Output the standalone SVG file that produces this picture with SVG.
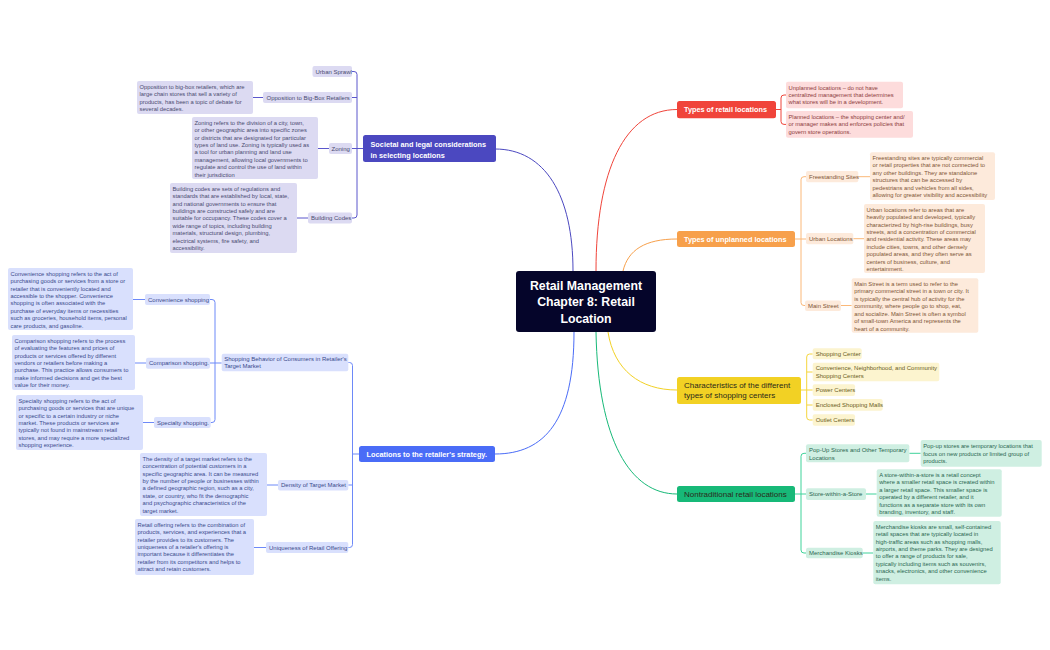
<svg xmlns="http://www.w3.org/2000/svg" width="1050" height="650" viewBox="0 0 1050 650">
<style>
text{font-family:"Liberation Sans",Arial,sans-serif}
.ct{font-size:12.3px;font-weight:bold;fill:#fff;text-anchor:middle}
.mw{font-size:7.3px;font-weight:bold;fill:#fff}
.md{font-size:8px;fill:#2a2a1a}
.s{font-size:6px}
.l{font-size:5.8px}
.c{fill:none;stroke-width:1}
.pu .b{fill:#dcdaf2}.pu text{fill:#4a4a70}
.bl .b{fill:#d9e0fd}.bl text{fill:#3a4a8c}
.re .b{fill:#fddcdc}.re text{fill:#8c3b3b}
.or .b{fill:#fdeadb}.or text{fill:#7d5535}
.ye .b{fill:#fcf4cf}.ye text{fill:#6b5d22}
.gr .b{fill:#cfefe2}.gr text{fill:#2a6650}
</style>
<rect width="1050" height="650" fill="#fff"/>
<g id="connectors">
<path class="c" stroke="#4b48c0" d="M495,149 C545,149 573,195 573,271"/>
<path class="c" stroke="#4a6cf7" d="M574,332 C574,420 545,454 495,454"/>
<path class="c" stroke="#f0443a" d="M596,271 C596,170 625,109.5 677,109.5"/>
<path class="c" stroke="#f7a04b" d="M623,271 C628,250 645,239 677,239"/>
<path class="c" stroke="#f2d124" d="M608,332 C614,370 640,390 677,390"/>
<path class="c" stroke="#17b978" d="M596,332 C598,440 630,494 677,494"/>
<g stroke="#5b57cc" class="c">
<path d="M352,71.5 H354 Q357,71.5 357,74.5 V215 Q357,218 354,218 H352 M357,97.5 H352 M352,148.5 H363"/>
<path d="M253,97.5 H263 M318,148.5 H329 M297,218 H308"/>
</g>
<g stroke="#6d89f8" class="c">
<path d="M348.3,362.5 H349.5 Q352.5,362.5 352.5,365.5 V544.5 Q352.5,547.5 349.5,547.5 H348.3 M352.5,485 H348.3 M352.5,454 H359"/>
<path d="M210,299.5 H212 Q215,299.5 215,302.5 V419.5 Q215,422.5 212,422.5 H210.7 M210,363 H221.7"/>
<path d="M133,299.5 H145 M135,363 H146 M143,422.5 H154 M267,485 H278 M254,547.5 H266"/>
</g>
<path class="c" stroke="#f0443a" d="M786,95 H784 Q781,95 781,98 V121.4 Q781,124.4 784,124.4 H786 M776,109.5 H781"/>
<g stroke="#fbb878" class="c">
<path d="M806,176.7 H804 Q801,176.7 801,179.7 V302.5 Q801,305.5 804,305.5 H805 M795,239 H806"/>
<path d="M858.3,176.7 H870 M853.3,238.7 H864 M841,305.5 H851.7"/>
</g>
<path class="c" stroke="#f5d63d" d="M812.7,354 H809.7 Q806.7,354 806.7,357 V417 Q806.7,420 809.7,420 H812.7 M801,390 H812.7 M806.7,372 H812.7 M806.7,405 H812.7"/>
<g stroke="#3fd39a" class="c">
<path d="M806,453.3 H804 Q801,453.3 801,456.3 V550 Q801,553 804,553 H806 M795,494 H806"/>
<path d="M909.3,453.3 H920.7 M866,494 H876.7 M862.7,553 H873.3"/>
</g>
</g>

<g id="center">
<rect x="516" y="271" width="140" height="61" rx="3" fill="#05052a"/>
<text class="ct" x="586" y="290">Retail Management</text>
<text class="ct" x="586" y="306.3">Chapter 8: Retail</text>
<text class="ct" x="586" y="322.6">Location</text>
</g>

<g id="societal">
<rect x="363" y="135" width="133" height="27" rx="2.5" fill="#4b48c0"/>
<text class="mw" x="370.5" y="147.3">Societal and legal considerations</text>
<text class="mw" x="370.5" y="157.5">in selecting locations</text>
</g>
<g id="urban-sprawl" class="pu"><rect class="b" x="312.5" y="66" width="39.5" height="11" rx="2"/><text class="s" x="315.5" y="73.6">Urban Sprawl</text></g>
<g id="big-box" class="pu"><rect class="b" x="263" y="92" width="89" height="11" rx="2"/><text class="s" x="266.5" y="99.6">Opposition to Big-Box Retailers</text></g>
<g id="big-box-note" class="pu"><rect class="b" x="137" y="81" width="116" height="33" rx="2"/><text class="l" y="88.7"><tspan x="139.5">Opposition to big-box retailers, which are</tspan><tspan x="139.5" dy="7.43">large chain stores that sell a variety of</tspan><tspan x="139.5" dy="7.43">products, has been a topic of debate for</tspan><tspan x="139.5" dy="7.43">several decades.</tspan></text></g>
<g id="zoning" class="pu"><rect class="b" x="329" y="143" width="23" height="11" rx="2"/><text class="s" x="331.5" y="150.6">Zoning</text></g>
<g id="zoning-note" class="pu"><rect class="b" x="192" y="117" width="126" height="62" rx="2"/><text class="l" y="124.7"><tspan x="194.5">Zoning refers to the division of a city, town,</tspan><tspan x="194.5" dy="7.43">or other geographic area into specific zones</tspan><tspan x="194.5" dy="7.43">or districts that are designated for particular</tspan><tspan x="194.5" dy="7.43">types of land use. Zoning is typically used as</tspan><tspan x="194.5" dy="7.43">a tool for urban planning and land use</tspan><tspan x="194.5" dy="7.43">management, allowing local governments to</tspan><tspan x="194.5" dy="7.43">regulate and control the use of land within</tspan><tspan x="194.5" dy="7.43">their jurisdiction</tspan></text></g>
<g id="building-codes" class="pu"><rect class="b" x="308" y="212.5" width="44" height="11" rx="2"/><text class="s" x="311" y="220.1">Building Codes</text></g>
<g id="building-codes-note" class="pu"><rect class="b" x="170" y="183" width="127" height="70" rx="2"/><text class="l" y="190.7"><tspan x="172.5">Building codes are sets of regulations and</tspan><tspan x="172.5" dy="7.43">standards that are established by local, state,</tspan><tspan x="172.5" dy="7.43">and national governments to ensure that</tspan><tspan x="172.5" dy="7.43">buildings are constructed safely and are</tspan><tspan x="172.5" dy="7.43">suitable for occupancy. These codes cover a</tspan><tspan x="172.5" dy="7.43">wide range of topics, including building</tspan><tspan x="172.5" dy="7.43">materials, structural design, plumbing,</tspan><tspan x="172.5" dy="7.43">electrical systems, fire safety, and</tspan><tspan x="172.5" dy="7.43">accessibility.</tspan></text></g>

<g id="strategy">
<rect x="359" y="446" width="136" height="16" rx="2.5" fill="#4a6cf7"/>
<text class="mw" x="366.5" y="456.6">Locations to the retailer's strategy.</text>
</g>
<g id="shopping-behavior" class="bl"><rect class="b" x="221.7" y="353.7" width="126.6" height="17.6" rx="2"/><text class="s" y="361.2"><tspan x="224.2">Shopping Behavior of Consumers in Retailer's</tspan><tspan x="224.2" dy="7">Target Market</tspan></text></g>
<g id="convenience" class="bl"><rect class="b" x="145" y="294" width="65" height="11" rx="2"/><text class="s" x="148" y="301.6">Convenience shopping</text></g>
<g id="convenience-note" class="bl"><rect class="b" x="8" y="268" width="125" height="62" rx="2"/><text class="l" y="275.7"><tspan x="10.5"> Convenience shopping refers to the act of</tspan><tspan x="10.5" dy="7.43">purchasing goods or services from a store or</tspan><tspan x="10.5" dy="7.43">retailer that is conveniently located and</tspan><tspan x="10.5" dy="7.43">accessible to the shopper. Convenience</tspan><tspan x="10.5" dy="7.43">shopping is often associated with the</tspan><tspan x="10.5" dy="7.43">purchase of everyday items or necessities</tspan><tspan x="10.5" dy="7.43">such as groceries, household items, personal</tspan><tspan x="10.5" dy="7.43">care products, and gasoline.</tspan></text></g>
<g id="comparison" class="bl"><rect class="b" x="146" y="357.7" width="64" height="11" rx="2"/><text class="s" x="149" y="365.3">Comparison shopping.</text></g>
<g id="comparison-note" class="bl"><rect class="b" x="12" y="335" width="123" height="55" rx="2"/><text class="l" y="342.7"><tspan x="14.5">Comparison shopping refers to the process</tspan><tspan x="14.5" dy="7.43">of evaluating the features and prices of</tspan><tspan x="14.5" dy="7.43">products or services offered by different</tspan><tspan x="14.5" dy="7.43">vendors or retailers before making a</tspan><tspan x="14.5" dy="7.43">purchase. This practice allows consumers to</tspan><tspan x="14.5" dy="7.43">make informed decisions and get the best</tspan><tspan x="14.5" dy="7.43">value for their money.</tspan></text></g>
<g id="specialty" class="bl"><rect class="b" x="154" y="417" width="56.7" height="11" rx="2"/><text class="s" x="157" y="424.6">Specialty shopping.</text></g>
<g id="specialty-note" class="bl"><rect class="b" x="16" y="395" width="127" height="55" rx="2"/><text class="l" y="402.7"><tspan x="18.5">Specialty shopping refers to the act of</tspan><tspan x="18.5" dy="7.43">purchasing goods or services that are unique</tspan><tspan x="18.5" dy="7.43">or specific to a certain industry or niche</tspan><tspan x="18.5" dy="7.43">market. These products or services are</tspan><tspan x="18.5" dy="7.43">typically not found in mainstream retail</tspan><tspan x="18.5" dy="7.43">stores, and may require a more specialized</tspan><tspan x="18.5" dy="7.43">shopping experience.</tspan></text></g>
<g id="density" class="bl"><rect class="b" x="278" y="480" width="70.3" height="10.5" rx="2"/><text class="s" x="281" y="487.3">Density of Target Market</text></g>
<g id="density-note" class="bl"><rect class="b" x="140" y="453" width="127" height="63" rx="2"/><text class="l" y="460.7"><tspan x="142.5">The density of a target market refers to the</tspan><tspan x="142.5" dy="7.43">concentration of potential customers in a</tspan><tspan x="142.5" dy="7.43">specific geographic area. It can be measured</tspan><tspan x="142.5" dy="7.43">by the number of people or businesses within</tspan><tspan x="142.5" dy="7.43">a defined geographic region, such as a city,</tspan><tspan x="142.5" dy="7.43">state, or country, who fit the demographic</tspan><tspan x="142.5" dy="7.43">and psychographic characteristics of the</tspan><tspan x="142.5" dy="7.43">target market.</tspan></text></g>
<g id="uniqueness" class="bl"><rect class="b" x="266" y="542" width="82.3" height="11" rx="2"/><text class="s" x="269" y="549.6">Uniqueness of Retail Offering</text></g>
<g id="uniqueness-note" class="bl"><rect class="b" x="135" y="519" width="119" height="56" rx="2"/><text class="l" y="526.7"><tspan x="137.5">Retail offering refers to the combination of</tspan><tspan x="137.5" dy="7.43">products, services, and experiences that a</tspan><tspan x="137.5" dy="7.43">retailer provides to its customers. The</tspan><tspan x="137.5" dy="7.43">uniqueness of a retailer's offering is</tspan><tspan x="137.5" dy="7.43">important because it differentiates the</tspan><tspan x="137.5" dy="7.43">retailer from its competitors and helps to</tspan><tspan x="137.5" dy="7.43">attract and retain customers.</tspan></text></g>

<g id="types-retail">
<rect x="677" y="101" width="99" height="17.3" rx="2.5" fill="#f0443a"/>
<text class="mw" x="684" y="112.3">Types of retail locations</text>
</g>
<g id="unplanned-note" class="re"><rect class="b" x="786" y="81.7" width="117" height="26.6" rx="2"/><text class="l" y="90"><tspan x="788.5">Unplanned locations – do not have</tspan><tspan x="788.5" dy="7.1">centralized management that determines</tspan><tspan x="788.5" dy="7.1">what stores will be in a development.</tspan></text></g>
<g id="planned-note" class="re"><rect class="b" x="786" y="111" width="127" height="26.7" rx="2"/><text class="l" y="119.3"><tspan x="788.5">Planned locations – the shopping center and/</tspan><tspan x="788.5" dy="7.1">or manager makes and enforces policies that</tspan><tspan x="788.5" dy="7.1">govern store operations.</tspan></text></g>

<g id="types-unplanned">
<rect x="677" y="231" width="118" height="16" rx="2.5" fill="#f7a04b"/>
<text class="mw" x="684" y="241.6">Types of unplanned locations</text>
</g>
<g id="freestanding" class="or"><rect class="b" x="806" y="171" width="52.3" height="11.3" rx="2"/><text class="s" x="809" y="178.8">Freestanding Sites</text></g>
<g id="freestanding-note" class="or"><rect class="b" x="870" y="152.3" width="125" height="47.7" rx="2"/><text class="l" y="160"><tspan x="872.5">Freestanding sites are typically commercial</tspan><tspan x="872.5" dy="7.43">or retail properties that are not connected to</tspan><tspan x="872.5" dy="7.43">any other buildings. They are standalone</tspan><tspan x="872.5" dy="7.43">structures that can be accessed by</tspan><tspan x="872.5" dy="7.43">pedestrians and vehicles from all sides,</tspan><tspan x="872.5" dy="7.43">allowing for greater visibility and accessibility</tspan></text></g>
<g id="urban" class="or"><rect class="b" x="806" y="233" width="47.3" height="11.3" rx="2"/><text class="s" x="809" y="240.8">Urban Locations</text></g>
<g id="urban-note" class="or"><rect class="b" x="864" y="204" width="121" height="69" rx="2"/><text class="l" y="211.7"><tspan x="866.5">Urban locations refer to areas that are</tspan><tspan x="866.5" dy="7.43">heavily populated and developed, typically</tspan><tspan x="866.5" dy="7.43">characterized by high-rise buildings, busy</tspan><tspan x="866.5" dy="7.43">streets, and a concentration of commercial</tspan><tspan x="866.5" dy="7.43">and residential activity. These areas may</tspan><tspan x="866.5" dy="7.43">include cities, towns, and other densely</tspan><tspan x="866.5" dy="7.43">populated areas, and they often serve as</tspan><tspan x="866.5" dy="7.43">centers of business, culture, and</tspan><tspan x="866.5" dy="7.43">entertainment.</tspan></text></g>
<g id="main-street" class="or"><rect class="b" x="805" y="300.5" width="36" height="10.5" rx="2"/><text class="s" x="808" y="307.7">Main Street</text></g>
<g id="main-street-note" class="or"><rect class="b" x="851.7" y="278.3" width="126.6" height="54.4" rx="2"/><text class="l" y="286"><tspan x="854.2">Main Street is a term used to refer to the</tspan><tspan x="854.2" dy="7.43">primary commercial street in a town or city. It</tspan><tspan x="854.2" dy="7.43">is typically the central hub of activity for the</tspan><tspan x="854.2" dy="7.43">community, where people go to shop, eat,</tspan><tspan x="854.2" dy="7.43">and socialize. Main Street is often a symbol</tspan><tspan x="854.2" dy="7.43">of small-town America and represents the</tspan><tspan x="854.2" dy="7.43">heart of a community.</tspan></text></g>

<g id="characteristics">
<rect x="677" y="377" width="124" height="27" rx="2.5" fill="#f2d124"/>
<text class="md" x="684" y="388">Characteristics of the different</text>
<text class="md" x="684" y="398.3">types of shopping centers</text>
</g>
<g id="shopping-center" class="ye"><rect class="b" x="812.7" y="348.3" width="49" height="11" rx="2"/><text class="s" x="815.7" y="356">Shopping Center</text></g>
<g id="community-centers" class="ye"><rect class="b" x="812.7" y="362.7" width="126.6" height="18.6" rx="2"/><text class="s" y="370.3"><tspan x="815.7">Convenience, Neighborhood, and Community</tspan><tspan x="815.7" dy="7.3">Shopping Centers</tspan></text></g>
<g id="power-centers" class="ye"><rect class="b" x="812.7" y="384.3" width="42.3" height="11.7" rx="2"/><text class="s" x="815.7" y="392.3">Power Centers</text></g>
<g id="malls" class="ye"><rect class="b" x="812.7" y="399" width="70" height="11.7" rx="2"/><text class="s" x="815.7" y="407">Enclosed Shopping Malls</text></g>
<g id="outlet" class="ye"><rect class="b" x="812.7" y="414.3" width="42.3" height="11.4" rx="2"/><text class="s" x="815.7" y="422.2">Outlet Centers</text></g>

<g id="nontraditional">
<rect x="677" y="486" width="118" height="16" rx="2.5" fill="#17b978"/>
<text class="md" x="684" y="496.8">Nontraditional retail locations</text>
</g>
<g id="popup" class="gr"><rect class="b" x="806" y="444.3" width="103.3" height="18" rx="2"/><text class="s" y="452"><tspan x="809">Pop-Up Stores and Other Temporary</tspan><tspan x="809" dy="7.5">Locations</tspan></text></g>
<g id="popup-note" class="gr"><rect class="b" x="920.7" y="440" width="121" height="26.7" rx="2"/><text class="l" y="448.2"><tspan x="923.2">Pop-up stores are temporary locations that</tspan><tspan x="923.2" dy="7.3">focus on new products  or limited group of</tspan><tspan x="923.2" dy="7.3">products.</tspan></text></g>
<g id="store-within" class="gr"><rect class="b" x="806" y="488.3" width="60" height="11.7" rx="2"/><text class="s" x="809" y="496.2">Store-within-a-Store</text></g>
<g id="store-within-note" class="gr"><rect class="b" x="876.7" y="469.3" width="125" height="47.4" rx="2"/><text class="l" y="477"><tspan x="879.2">A store-within-a-store is a retail concept</tspan><tspan x="879.2" dy="7.43">where a smaller retail space is created within</tspan><tspan x="879.2" dy="7.43">a larger retail space. This smaller space is</tspan><tspan x="879.2" dy="7.43">operated by a different retailer, and it</tspan><tspan x="879.2" dy="7.43">functions as a separate store with its own</tspan><tspan x="879.2" dy="7.43">branding, inventory, and staff.</tspan></text></g>
<g id="kiosks" class="gr"><rect class="b" x="806" y="547.7" width="56.7" height="10.6" rx="2"/><text class="s" x="809" y="555">Merchandise Kiosks</text></g>
<g id="kiosks-note" class="gr"><rect class="b" x="873.3" y="521" width="127.4" height="63.3" rx="2"/><text class="l" y="528.7"><tspan x="875.8">Merchandise kiosks are small, self-contained</tspan><tspan x="875.8" dy="7.43">retail spaces that are typically located in</tspan><tspan x="875.8" dy="7.43">high-traffic areas such as shopping malls,</tspan><tspan x="875.8" dy="7.43">airports, and theme parks. They are designed</tspan><tspan x="875.8" dy="7.43">to offer a range of products for sale,</tspan><tspan x="875.8" dy="7.43">typically including items such as souvenirs,</tspan><tspan x="875.8" dy="7.43">snacks, electronics, and other convenience</tspan><tspan x="875.8" dy="7.43">items.</tspan></text></g>
</svg>
